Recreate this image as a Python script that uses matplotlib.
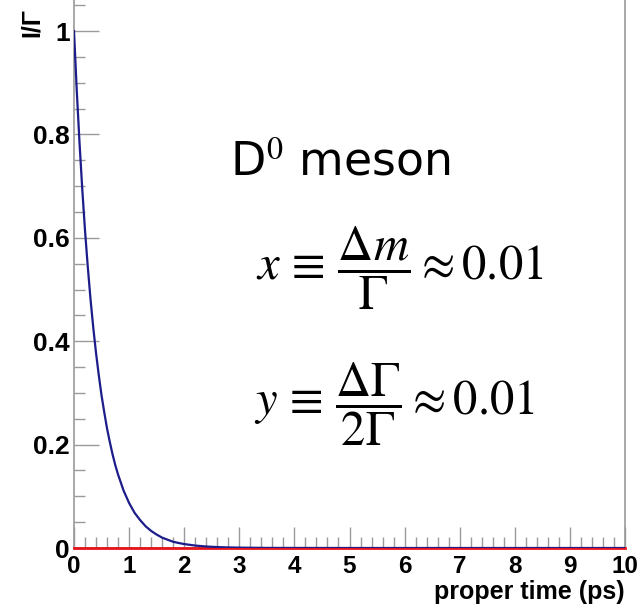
import matplotlib
matplotlib.use("Agg")
import matplotlib.pyplot as plt
from matplotlib.ticker import MultipleLocator, FixedLocator

plt.rcParams["mathtext.fontset"] = "stix"

# Proper time (ps) and intensity
t_ps = [0.0, 0.05, 0.1, 0.15, 0.2, 0.25, 0.3, 0.35, 0.4, 0.45, 0.5, 0.55,
        0.6, 0.65, 0.7, 0.75, 0.8, 0.9, 1.0, 1.1, 1.2, 1.3, 1.4, 1.5, 1.6,
        1.7, 1.8, 1.9, 2.0, 2.2, 2.4, 2.6, 2.8, 3.0, 3.5, 4.0, 5.0, 6.0,
        7.0, 8.0, 9.0, 10.0]
unmixed = [1.0, 0.885, 0.784, 0.694, 0.614, 0.544, 0.481, 0.426, 0.377,
           0.334, 0.295, 0.262, 0.231, 0.205, 0.181, 0.160, 0.142, 0.111,
           0.087, 0.068, 0.054, 0.042, 0.033, 0.026, 0.020, 0.016, 0.012,
           0.0097, 0.0076, 0.0047, 0.0029, 0.0018, 0.0011, 0.0007, 0.0002,
           0.0001, 0.0, 0.0, 0.0, 0.0, 0.0, 0.0]
# Mixed (D0 -> anti-D0) intensity: negligible on this scale
mixed = [0.0] * len(t_ps)

x_ticks = [0, 1, 2, 3, 4, 5, 6, 7, 8, 9, 10]
x_tick_labels = ["0", "1", "2", "3", "4", "5", "6", "7", "8", "9", "10"]
y_ticks = [0, 0.2, 0.4, 0.6, 0.8, 1.0]
y_tick_labels = ["0", "0.2", "0.4", "0.6", "0.8", "1"]

W, H = 637, 608
fig = plt.figure(figsize=(W / 100, H / 100), dpi=100)
ax = fig.add_axes([74 / W, (H - 548) / H, (625 - 74) / W, 548 / H])

ax.plot(t_ps, mixed, color="#e8141c", lw=2.0, zorder=3, clip_on=False)
ax.plot(t_ps, unmixed, color="#1c1c8a", lw=1.6, zorder=4)

ax.set_xlim(0, 10)
ax.set_ylim(0, 1.06)

axis_grey = "#9a9a9a"
for side in ("left", "right", "bottom"):
    ax.spines[side].set_color(axis_grey)
    ax.spines[side].set_linewidth(1.2)
ax.spines["top"].set_visible(False)

ax.xaxis.set_major_locator(FixedLocator(x_ticks))
ax.set_xticklabels(x_tick_labels)
ax.xaxis.set_minor_locator(MultipleLocator(0.2))
ax.yaxis.set_major_locator(FixedLocator(y_ticks))
ax.set_yticklabels(y_tick_labels)
ax.yaxis.set_minor_locator(MultipleLocator(0.05))

ax.tick_params(axis="both", which="both", direction="in", colors=axis_grey,
               labelcolor="black", width=1.0)
ax.tick_params(axis="x", which="major", length=15, pad=5)
ax.tick_params(axis="x", which="minor", length=8)
ax.tick_params(axis="y", which="major", length=18, pad=3)
ax.tick_params(axis="y", which="minor", length=8)
ax.tick_params(right=False, top=False, which="both")

for lab in ax.get_xticklabels():
    lab.set_fontfamily("Liberation Sans")
    lab.set_fontweight("bold")
    lab.set_fontsize(17.5)
for lab in ax.get_yticklabels():
    lab.set_fontfamily("Liberation Sans")
    lab.set_fontweight("bold")
    lab.set_fontsize(19)

fig.text(625 / W, 1 - 592 / H, "proper time (ps)", ha="right", va="center",
         fontsize=18, fontweight="bold", family="Liberation Sans")
fig.text(32 / W, 1 - 37 / H, "I/Γ", rotation=90, ha="center", va="bottom",
         fontsize=18, fontweight="bold", family="Liberation Sans")

fig.text(230 / W, 1 - 175 / H, "D$^{0}$ meson", ha="left", va="baseline",
         fontsize=33, family="DejaVu Sans")
fig.text(256 / W, 1 - 268 / H,
         r"$x\,\equiv\,\dfrac{\Delta m}{\Gamma}\approx 0.01$",
         ha="left", va="center", fontsize=35)
fig.text(254 / W, 1 - 404 / H,
         r"$y\,\equiv\,\dfrac{\Delta \Gamma}{2\Gamma}\approx 0.01$",
         ha="left", va="center", fontsize=35)

fig.savefig("out.png", dpi=100)
